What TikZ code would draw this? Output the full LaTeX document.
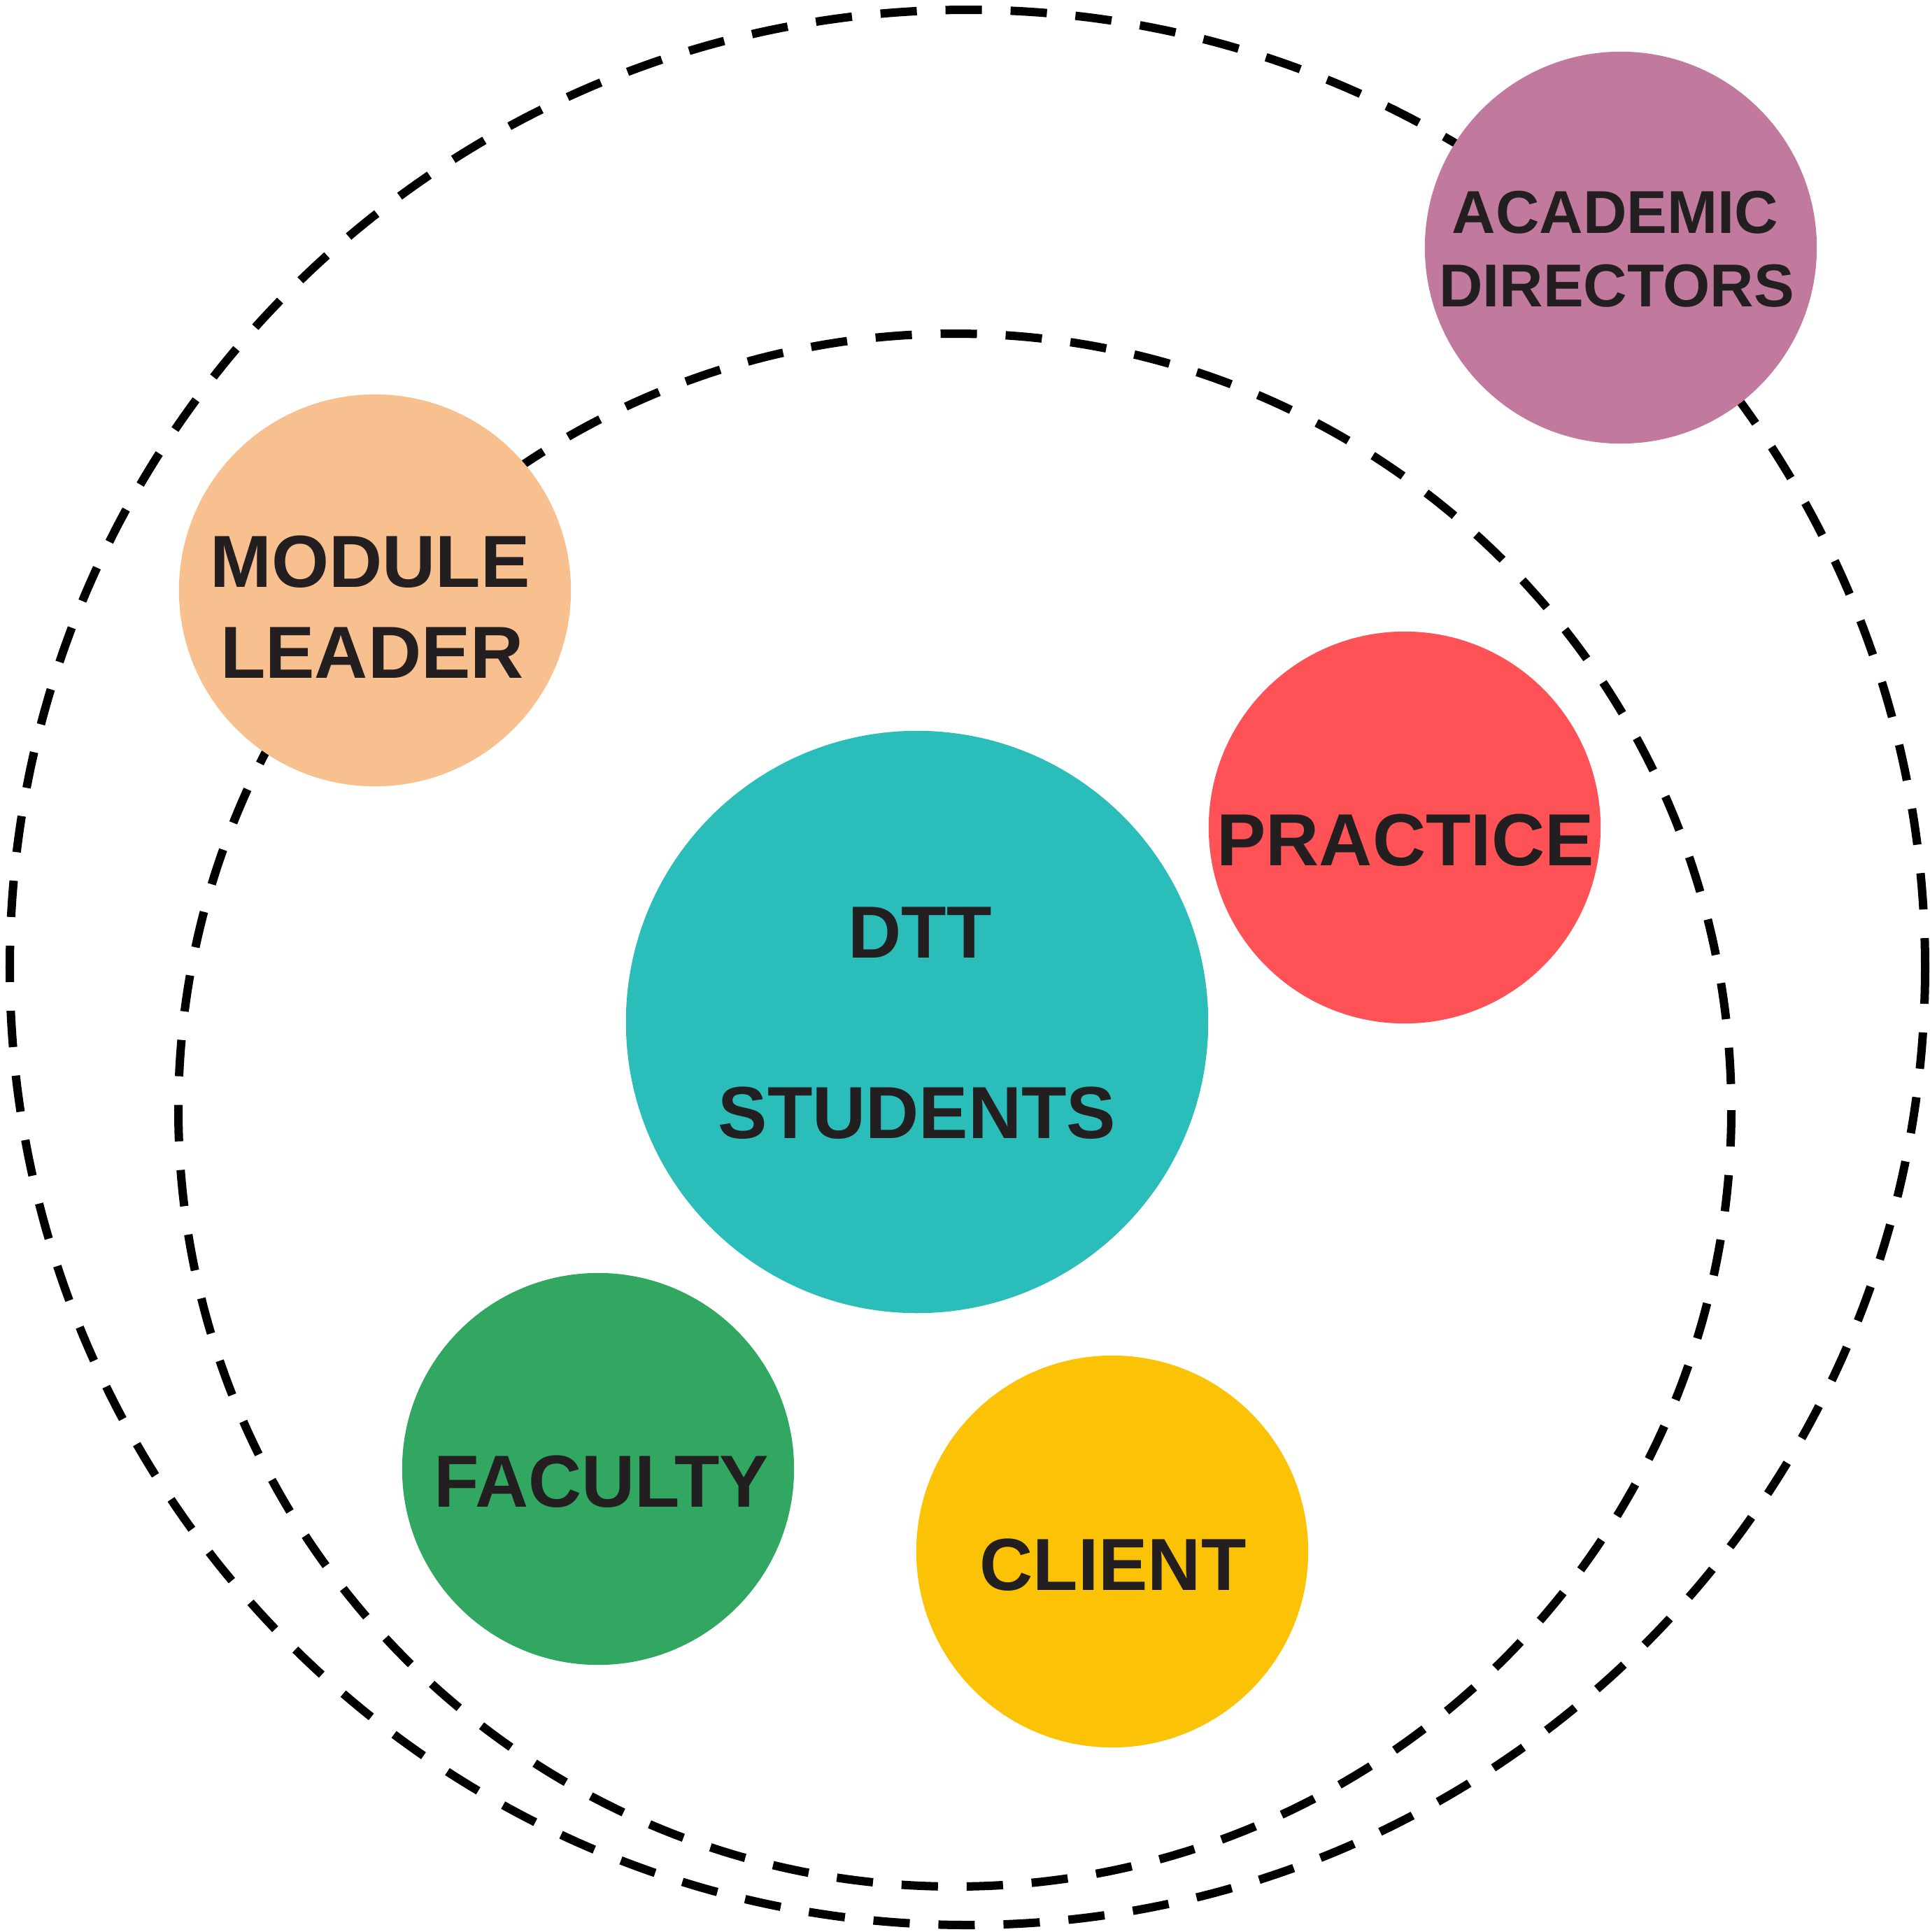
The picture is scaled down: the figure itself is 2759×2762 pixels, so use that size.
\documentclass[tikz,border=0pt]{standalone}
\usepackage{fontspec}
\setmainfont{Liberation Sans}
\definecolor{txt}{HTML}{231F20}
\definecolor{cAD}{HTML}{C17A9E}
\definecolor{cML}{HTML}{F8BF8F}
\definecolor{cPR}{HTML}{FF5257}
\definecolor{cDT}{HTML}{2BBDB9}
\definecolor{cFA}{HTML}{31A761}
\definecolor{cCL}{HTML}{FCC205}
\begin{document}
\begin{tikzpicture}[x=0.01cm,y=-0.01cm]
\tikzset{
 dashring/.style={draw=black, line width=0.12cm, dash pattern=on 0.52cm off 0.41cm},
 bubble/.style={circle, inner sep=0pt, minimum size=5.6cm, draw=none},
 lbl/.style={anchor=base, text=txt, inner sep=0pt, font=\bfseries\fontsize{30pt}{36pt}\selectfont},
 lblsmall/.style={anchor=base, text=txt, inner sep=0pt, font=\bfseries\fontsize{24.6pt}{30pt}\selectfont},
}
\useasboundingbox (0,0) rectangle (2759,2762);
% dashed rings
\coordinate (oc) at (1383,1383);
\coordinate (ic) at (1365,1587);
\draw[dashring] (oc) circle[radius=1369];
\draw[dashring] (ic) circle[radius=1110];
% bubbles
\node[bubble, fill=cAD] (ad) at (2317,354) {};
\node[bubble, fill=cML] (ml) at (536,844) {};
\node[bubble, fill=cPR] (pr) at (2008,1183) {};
\node[bubble, fill=cDT, minimum size=8.32cm] (dt) at (1311,1461) {};
\node[bubble, fill=cFA] (fa) at (855,2100) {};
\node[bubble, fill=cCL] (cl) at (1590,2218) {};
% labels
\node[lblsmall] (adA) at (2309,333) {ACADEMIC};
\node[lblsmall] (adB) at (2311,438) {DIRECTORS};
\node[lbl] (mlA) at (529,839) {MODULE};
\node[lbl] (mlB) at (532,969) {LEADER};
\node[lbl] (dtA) at (1315,1369) {DTT};
\node[lbl] (dtB) at (1311,1627) {STUDENTS};
\node[lbl] (prA) at (2009,1237) {PRACTICE};
\node[lbl] (faA) at (860,2154) {FACULTY};
\node[lbl] (clA) at (1591,2273) {CLIENT};
\end{tikzpicture}
\end{document}
